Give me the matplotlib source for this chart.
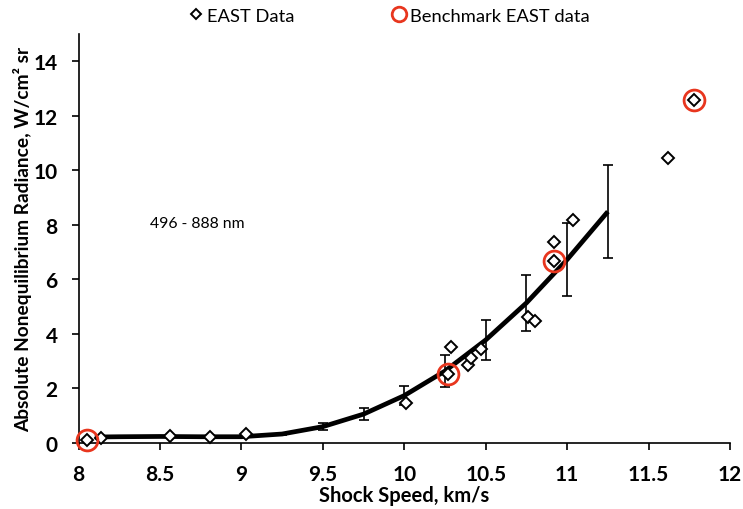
import matplotlib
matplotlib.use("Agg")
import matplotlib.pyplot as plt
import numpy as np

plt.rcParams["font.family"] = ["Lato", "DejaVu Sans"]

# EAST measurements (shock speed km/s, radiance W/cm2 sr)
east_x = [8.05, 8.14, 8.56, 8.81, 9.03, 10.01, 10.27, 10.285, 10.39, 10.41,
          10.47, 10.76, 10.80, 10.92, 10.92, 11.035, 11.62, 11.78]
east_y = [0.11, 0.17, 0.25, 0.23, 0.33, 1.46, 2.53, 3.51, 2.87, 3.12,
          3.45, 4.61, 4.47, 7.39, 6.67, 8.18, 10.45, 12.6]

# benchmark points
bench_x = [8.05, 10.27, 10.92, 11.78]
bench_y = [0.11, 2.53, 6.67, 12.6]

# fitted curve and its error bars
fit_x = [8.1, 8.25, 8.5, 8.75, 9.0, 9.25, 9.5, 9.75, 10.0, 10.25, 10.5, 10.75, 11.0, 11.25]
fit_y = [0.22, 0.23, 0.24, 0.23, 0.23, 0.33, 0.60, 1.06, 1.74, 2.64, 3.78, 5.14, 6.73, 8.49]
fit_err = [0, 0, 0, 0, 0, 0.04, 0.12, 0.22, 0.36, 0.58, 0.75, 1.04, 1.34, 1.70]

fig = plt.figure(figsize=(7.43, 5.10), dpi=100)
ax = fig.add_axes([0.1057, 0.1294, 0.8768, 0.8016])

ax.plot(fit_x, fit_y, color="black", lw=3.4, zorder=2, solid_capstyle="butt")
ex = [x for x, e in zip(fit_x, fit_err) if e > 0]
ey = [y for y, e in zip(fit_y, fit_err) if e > 0]
ee = [e for e in fit_err if e > 0]
ax.errorbar(ex, ey, yerr=ee, fmt="none", ecolor="black", elinewidth=1.2,
            capsize=3.5, capthick=1.2, zorder=2)

ax.plot(east_x, east_y, ls="none", marker="D", markersize=6.6, markerfacecolor="white",
        markeredgecolor="black", markeredgewidth=1.4, zorder=3, clip_on=False,
        label="EAST Data")
ax.plot(bench_x, bench_y, ls="none", marker="o", markersize=15, markerfacecolor="none",
        markeredgecolor="#E8361E", markeredgewidth=2.0, zorder=4, clip_on=False,
        label="Benchmark EAST data")

ax.text(8.44, 8.07, "496 - 888 nm", fontsize=11.3, va="center", ha="left")

ax.set_xlim(8, 12)
ax.set_ylim(0, 15)
ax.set_xticks(np.arange(8, 12.01, 0.5))
ax.set_xticklabels(["8", "8.5", "9", "9.5", "10", "10.5", "11", "11.5", "12"])
ax.set_yticks(np.arange(0, 15, 2))
for s in ["top", "right"]:
    ax.spines[s].set_visible(False)
for s in ["left", "bottom"]:
    ax.spines[s].set_linewidth(1.2)
ax.tick_params(direction="out", length=5, width=1.2, labelsize=15)
ax.tick_params(axis="x", pad=10)
ax.tick_params(axis="y", pad=10)
for lbl in ax.get_xticklabels() + ax.get_yticklabels():
    lbl.set_fontweight("bold")

ax.set_xlabel("Shock Speed, km/s", fontsize=14.5, fontweight="bold", labelpad=1)
ax.set_ylabel("Absolute Nonequilibrium Radiance, W/cm² sr", fontsize=13.8,
              fontweight="bold", labelpad=1)

fig.legend(loc="upper center", bbox_to_anchor=(0.522, 1.015), ncol=2, frameon=False,
           fontsize=13.2, handletextpad=0.1, columnspacing=5.2, markerscale=0.7,
           handlelength=1.0)

fig.savefig("out.png", dpi=100)
